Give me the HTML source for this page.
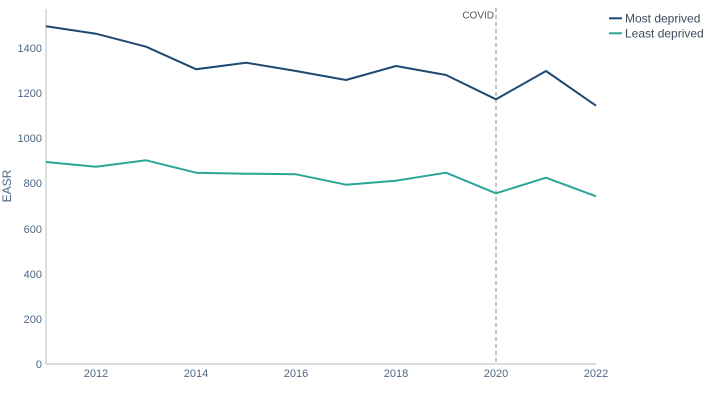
<!DOCTYPE html>
<html><head><meta charset="utf-8"><style>
html,body{margin:0;padding:0;background:#fff;}
svg{display:block;font-family:"Liberation Sans",Arial,sans-serif;}
</style></head><body>
<svg width="711" height="400" viewBox="0 0 711 400" xmlns="http://www.w3.org/2000/svg">
<rect width="711" height="400" fill="#fff"/>
<!-- axes -->
<line x1="46" y1="9" x2="46" y2="364.5" stroke="#c8c8c8" stroke-width="1.2"/>
<line x1="46" y1="364" x2="596" y2="364" stroke="#c8c8c8" stroke-width="1.2"/>
<!-- covid line -->
<line x1="496" y1="8" x2="496" y2="364" stroke="#a0a0a0" stroke-width="1.2" stroke-dasharray="4,3"/>
<text x="494" y="18.5" font-size="10" fill="#555" text-anchor="end">COVID</text>
<!-- y ticks -->
<g font-size="11" fill="#506784" text-anchor="end">
<text x="42" y="368">0</text>
<text x="42" y="323">200</text>
<text x="42" y="278">400</text>
<text x="42" y="233">600</text>
<text x="42" y="187">800</text>
<text x="42" y="142">1000</text>
<text x="42" y="97">1200</text>
<text x="42" y="52">1400</text>
</g>
<text transform="translate(11,186) rotate(-90)" font-size="12" fill="#506784" text-anchor="middle">EASR</text>
<!-- x ticks -->
<g font-size="11" fill="#506784" text-anchor="middle">
<text x="96" y="377">2012</text>
<text x="196" y="377">2014</text>
<text x="296" y="377">2016</text>
<text x="396" y="377">2018</text>
<text x="496" y="377">2020</text>
<text x="596" y="377">2022</text>
</g>
<!-- series -->
<polyline fill="none" stroke="#1d4a72" stroke-width="2" stroke-linejoin="round"
points="46,26.3 96,33.7 146,46.7 196,69.2 246,62.7 296,71 346,80 396,66 446,75 496,99.3 546,71 596,105.7"/>
<polyline fill="none" stroke="#2aa597" stroke-width="2" stroke-linejoin="round"
points="46,162 96,166.7 146,160.3 196,172.7 246,173.7 296,174.3 346,184.7 396,180.7 446,172.7 496,193.3 546,177.7 596,196.3"/>
<!-- legend -->
<line x1="609" y1="18.3" x2="622" y2="18.3" stroke="#1d4a72" stroke-width="2"/>
<text x="625" y="22.5" font-size="12" fill="#3c4a5e">Most deprived</text>
<line x1="609" y1="33.3" x2="622" y2="33.3" stroke="#2aa597" stroke-width="2"/>
<text x="625" y="37.5" font-size="12" fill="#3c4a5e">Least deprived</text>
</svg>
</body></html>
